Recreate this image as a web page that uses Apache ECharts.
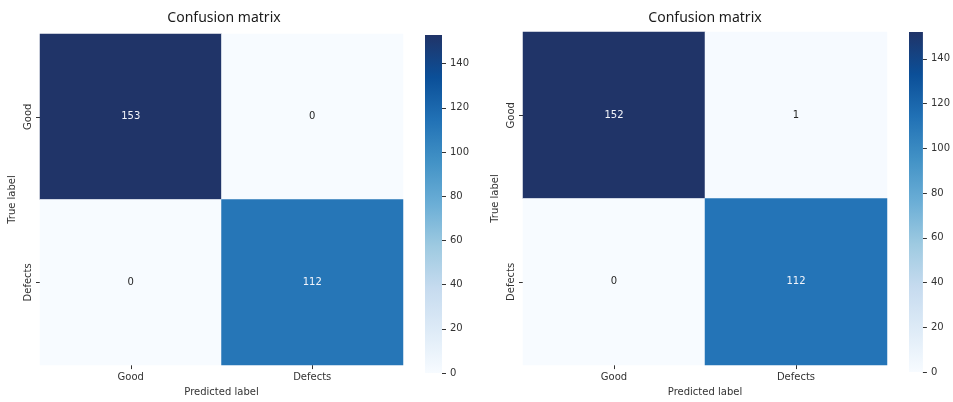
<!DOCTYPE html>
<html>
<head>
<meta charset="utf-8">
<script src="https://cdn.jsdelivr.net/npm/echarts@6/dist/echarts.min.js"></script>
<style>
  html, body { margin: 0; padding: 0; background: #ffffff; }
  #chart { width: 953px; height: 402px; }
</style>
</head>
<body>
<div id="chart"></div>
<script>
// Class labels (rows = true label, columns = predicted label)
const categories = ['Good', 'Defects'];

// Confusion matrix of the first model
const matrixLeft = [
  [153, 0],
  [0, 112]
];

// Confusion matrix of the second model
const matrixRight = [
  [152, 1],
  [0, 112]
];

// Colorbar tick values
const colorbarTicks = [0, 20, 40, 60, 80, 100, 120, 140];

// Sequential blue colour ramp (low -> high)
const blues = ['#f7fbff', '#deebf7', '#c6dbef', '#9ecae1', '#6baed6',
               '#4292c6', '#2171b5', '#0b4f98', '#203468'];

const FONT = 'DejaVu Sans';
const TEXT = '#333333';

function matrixMax(m) {
  return Math.max.apply(null, m.map(r => Math.max.apply(null, r)));
}

function cells(m) {
  const max = matrixMax(m);
  const out = [];
  m.forEach((row, r) => {
    row.forEach((v, c) => {
      out.push({
        value: [c, r, v],
        label: { color: v > max / 2 ? '#f2f4fa' : '#262626' }
      });
    });
  });
  return out;
}

function gradient() {
  return {
    type: 'linear', x: 0, y: 1, x2: 0, y2: 0,
    colorStops: blues.map((c, i) => ({ offset: i / (blues.length - 1), color: c }))
  };
}

const panels = [
  { m: matrixLeft,  heat: { left: 40,  top: 34, width: 363, height: 338 },
    bar: { left: 425, top: 35, width: 17, height: 338 }, titleX: 224 },
  { m: matrixRight, heat: { left: 523, top: 32, width: 364, height: 339 },
    bar: { left: 909, top: 32, width: 17, height: 340 }, titleX: 705 }
];

const grid = [], xAxis = [], yAxis = [], series = [], visualMap = [], title = [];

panels.forEach((p, i) => {
  const hg = grid.length;
  grid.push(p.heat);
  grid.push(p.bar);
  const max = matrixMax(p.m);

  title.push({
    text: 'Confusion matrix',
    left: p.titleX,
    top: 11,
    padding: 0,
    textAlign: 'center',
    textStyle: { fontFamily: 'Noto Sans', fontSize: 14, fontWeight: 'normal', color: '#1a1a1a' }
  });

  // heatmap axes
  xAxis.push({
    type: 'category', gridIndex: hg, data: categories, position: 'bottom',
    axisLine: { show: false },
    axisTick: { show: true, alignWithLabel: true, length: 4, lineStyle: { color: TEXT } },
    axisLabel: { fontFamily: FONT, fontSize: 10, color: TEXT, margin: 7 },
    splitLine: { show: false },
    name: 'Predicted label', nameLocation: 'middle', nameGap: 21,
    nameTextStyle: { fontFamily: FONT, fontSize: 10, color: TEXT }
  });
  yAxis.push({
    type: 'category', gridIndex: hg, data: categories, inverse: true,
    axisLine: { show: false },
    axisTick: { show: true, alignWithLabel: true, length: 4, lineStyle: { color: TEXT } },
    axisLabel: { fontFamily: FONT, fontSize: 10, color: TEXT, rotate: 90, margin: 7 },
    splitLine: { show: false },
    name: 'True label', nameLocation: 'middle', nameGap: 23,
    nameTextStyle: { fontFamily: FONT, fontSize: 10, color: TEXT }
  });

  // colorbar axes
  xAxis.push({
    type: 'category', gridIndex: hg + 1, data: [''], show: false
  });
  yAxis.push({
    type: 'value', gridIndex: hg + 1, min: 0, max: max, position: 'right',
    axisLine: { show: false },
    axisTick: { show: true, length: 4, customValues: colorbarTicks, lineStyle: { color: TEXT } },
    axisLabel: { fontFamily: FONT, fontSize: 10, color: TEXT, margin: 8, customValues: colorbarTicks },
    splitLine: { show: false }
  });

  const si = series.length;
  series.push({
    type: 'heatmap',
    xAxisIndex: hg, yAxisIndex: hg,
    data: cells(p.m),
    label: { show: true, fontFamily: FONT, fontSize: 10, formatter: d => String(d.value[2]) },
    emphasis: { disabled: true },
    silent: true
  });
  series.push({
    type: 'bar',
    xAxisIndex: hg + 1, yAxisIndex: hg + 1,
    data: [max],
    barWidth: '100%',
    itemStyle: { color: gradient() },
    silent: true
  });

  visualMap.push({
    type: 'continuous', show: false, seriesIndex: si,
    min: 0, max: max, dimension: 2,
    inRange: { color: blues }
  });
});

const chart = echarts.init(document.getElementById('chart'), null, { renderer: 'canvas' });
chart.setOption({
  animation: false,
  backgroundColor: '#ffffff',
  title, grid, xAxis, yAxis, series, visualMap
});
</script>
</body>
</html>
